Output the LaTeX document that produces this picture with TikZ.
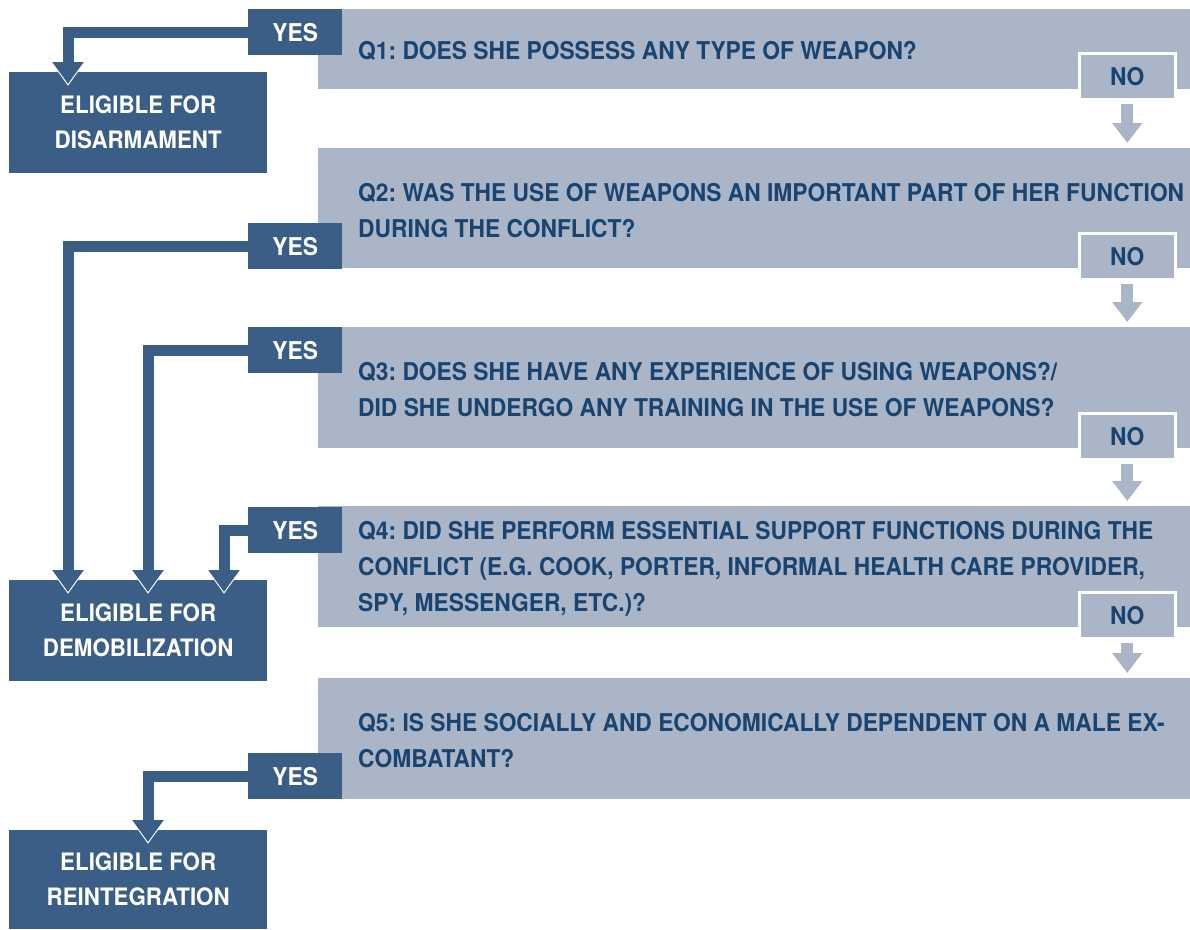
\documentclass[tikz,border=0pt]{standalone}
\usepackage{fontspec}
\setmainfont{TeX Gyre Heros}[FakeStretch=0.93]
\usetikzlibrary{positioning, arrows.meta}
\definecolor{dkblue}{HTML}{3A5E86}
\definecolor{ltblue}{HTML}{AAB5C8}
\definecolor{txblue}{HTML}{1A4470}
\frenchspacing

\begin{document}
\begin{tikzpicture}[x=1pt, y=-1pt,
    question/.style={rectangle, draw=none, fill=ltblue, anchor=north west,
        minimum width=872pt, inner sep=0pt},
    qtext/.style={anchor=west, align=left, text=txblue, inner sep=0pt,
        font=\fontsize{24.5}{36}\selectfont\bfseries},
    yes/.style={rectangle, draw=none, fill=dkblue, anchor=north west, text=white,
        minimum width=94pt, minimum height=46pt, inner sep=0pt,
        font=\fontsize{24.5}{30}\selectfont\bfseries},
    no/.style={rectangle, draw=white, line width=2.5pt, fill=ltblue, anchor=north west,
        text=txblue, minimum width=96pt, minimum height=46pt, inner sep=0pt,
        font=\fontsize{24.5}{30}\selectfont\bfseries},
    result/.style={rectangle, draw=none, fill=dkblue, anchor=north west, text=white,
        minimum width=258pt, minimum height=101pt, inner sep=0pt, align=center,
        font=\fontsize{24}{35}\selectfont\bfseries},
    yesline/.style={draw=dkblue, line width=11pt,
        -{Triangle[width=30pt, length=22pt]}, shorten >=-12pt,
        preaction={draw=white, line width=13pt,
            -{Triangle[width=35pt, length=26pt]}, shorten >=-14pt}},
    noline/.style={draw=ltblue, line width=12pt,
        -{Triangle[width=29pt, length=20pt]}, shorten <=3pt, shorten >=5pt}
]
\useasboundingbox (0,0) rectangle (1190,929);

\node (Q1) [question, minimum height=80pt] at (318,9) {};
\node (Q2) [question, minimum height=120pt] at (318,148) {};
\node (Q3) [question, minimum height=121pt] at (318,327) {};
\node (Q4) [question, minimum height=121pt] at (318,506) {};
\node (Q5) [question, minimum height=121pt] at (318,678) {};

\node (T1) [qtext] at ([xshift=40pt, yshift=-2pt]Q1.west)
    {Q1: DOES SHE POSSESS ANY TYPE OF WEAPON?};
\node (T2) [qtext] at ([xshift=40pt, yshift=-2pt]Q2.west)
    {Q2: WAS THE USE OF WEAPONS AN IMPORTANT PART OF HER FUNCTION\\DURING THE CONFLICT?};
\node (T3) [qtext] at ([xshift=40pt, yshift=-2pt]Q3.west)
    {Q3: DOES SHE HAVE ANY EXPERIENCE OF USING WEAPONS?/\\DID SHE UNDERGO ANY TRAINING IN THE USE OF WEAPONS?};
\node (T4) [qtext] at ([xshift=40pt, yshift=-2pt]Q4.west)
    {Q4: DID SHE PERFORM ESSENTIAL SUPPORT FUNCTIONS DURING THE\\CONFLICT (E.G. COOK, PORTER, INFORMAL HEALTH CARE PROVIDER,\\SPY, MESSENGER, ETC.)?};
\node (T5) [qtext] at ([xshift=40pt, yshift=-2pt]Q5.west)
    {Q5: IS SHE SOCIALLY AND ECONOMICALLY DEPENDENT ON A MALE EX-\\COMBATANT?};

\node (R1) [result] at (9,72) {ELIGIBLE FOR\\DISARMAMENT};
\node (R2) [result] at (9,580) {ELIGIBLE FOR\\DEMOBILIZATION};
\node (R3) [result, minimum height=99pt] at (9,830) {ELIGIBLE FOR\\REINTEGRATION};

\node (Y1) [yes] at (248,9) {YES};
\node (Y2) [yes] at (248,223) {YES};
\node (Y3) [yes] at (248,327) {YES};
\node (Y4) [yes] at (248,507) {YES};
\node (Y5) [yes] at (248,753) {YES};

\node (N1) [no] at (1078,52) {NO};
\node (N2) [no] at (1078,232) {NO};
\node (N3) [no] at (1078,412) {NO};
\node (N4) [no] at (1078,591) {NO};

\draw[yesline] (Y1.west) -| ([xshift=59pt]R1.north west);
\draw[yesline] (Y2.west) -| ([xshift=59pt]R2.north west);
\draw[yesline] (Y3.west) -| ([xshift=139pt]R2.north west);
\draw[yesline] (Y4.west) -| ([xshift=215pt]R2.north west);
\draw[yesline] (Y5.west) -| ([xshift=139pt]R3.north west);

\draw[noline] (N1.south) -- (N1.south |- Q2.north);
\draw[noline] (N2.south) -- (N2.south |- Q3.north);
\draw[noline] (N3.south) -- (N3.south |- Q4.north);
\draw[noline] (N4.south) -- (N4.south |- Q5.north);

\end{tikzpicture}
\end{document}
